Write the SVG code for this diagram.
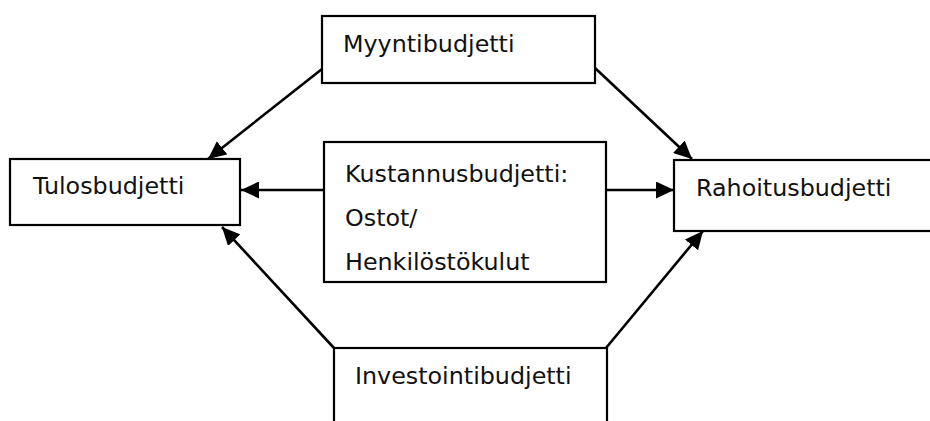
<svg xmlns="http://www.w3.org/2000/svg" width="930" height="421" viewBox="0 0 930 421">
<style>
.box{fill:#fff;stroke:#000;stroke-width:2.2}
.lbl{font-family:"DejaVu Sans",Verdana,sans-serif;font-size:23.8px;fill:#111}
.con{stroke:#000;stroke-width:2.6;fill:none;marker-end:url(#ah)}
</style>
<defs>
<marker id="ah" markerUnits="userSpaceOnUse" markerWidth="19" markerHeight="17" viewBox="0 0 19 17" refX="18" refY="8.5" orient="auto">
<path d="M0,0 L18,8.5 L0,17 Z" fill="#000"/>
</marker>
</defs>
<rect width="930" height="421" fill="#fff"/>
<g id="myyntibudjetti">
<rect class="box" x="322" y="16" width="273" height="67"/>
<text class="lbl" x="343" y="52">Myyntibudjetti</text>
</g>
<g id="tulosbudjetti">
<rect class="box" x="10" y="159" width="230" height="66"/>
<text class="lbl" x="33" y="194">Tulosbudjetti</text>
</g>
<g id="kustannusbudjetti">
<rect class="box" x="324" y="142" width="282" height="140"/>
<text class="lbl" x="345" y="182">Kustannusbudjetti:</text>
<text class="lbl" x="345" y="226">Ostot/</text>
<text class="lbl" x="345" y="270">Henkilöstökulut</text>
</g>
<g id="rahoitusbudjetti">
<rect class="box" x="674" y="160" width="270" height="71"/>
<text class="lbl" x="696" y="196">Rahoitusbudjetti</text>
</g>
<g id="investointibudjetti">
<rect class="box" x="334" y="348" width="273" height="90"/>
<text class="lbl" x="355" y="384">Investointibudjetti</text>
</g>
<g id="connectors">
<line class="con" x1="322" y1="69" x2="208" y2="159"/>
<line class="con" x1="595" y1="68" x2="692" y2="159"/>
<line class="con" x1="324" y1="190" x2="241" y2="190"/>
<line class="con" x1="606" y1="190" x2="674" y2="190"/>
<line class="con" x1="334" y1="348" x2="222" y2="227"/>
<line class="con" x1="606" y1="348" x2="703" y2="231"/>
</g>
</svg>
